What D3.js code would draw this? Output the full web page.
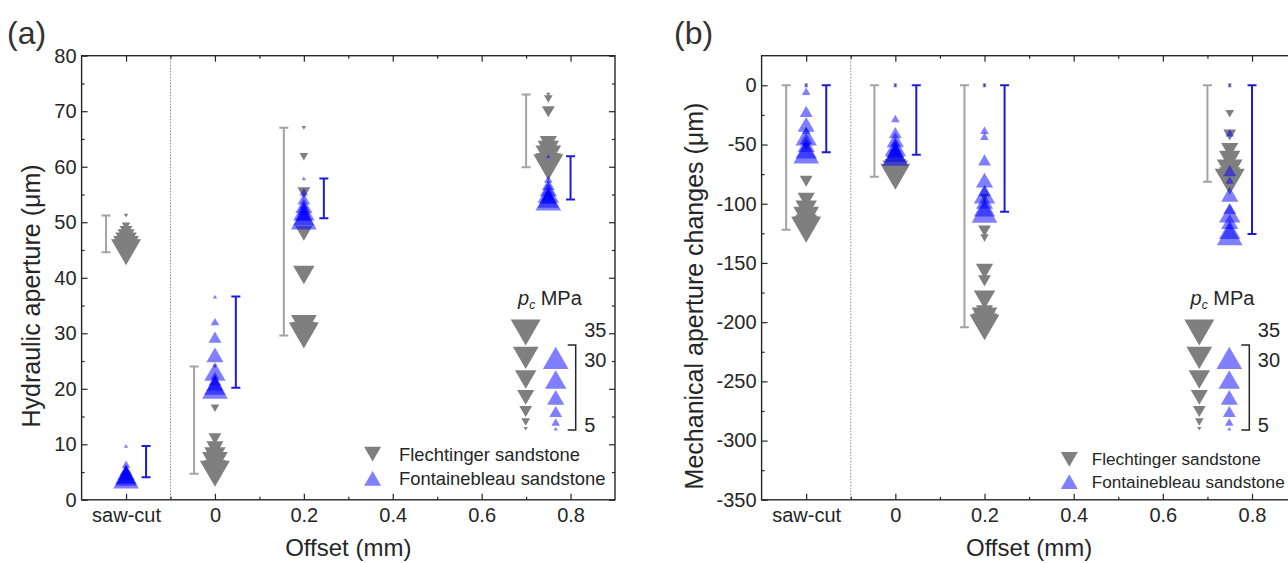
<!DOCTYPE html>
<html><head><meta charset="utf-8">
<script src="https://cdn.jsdelivr.net/npm/d3@7"></script>
<style>body{margin:0;background:#fff;} svg{display:block;font-family:"Liberation Sans",Arial,sans-serif;}</style>
</head><body><svg id="c" width="1288" height="563"></svg>
<script>
// ---------- data ----------
const xTickValues = [-0.2, 0, 0.2, 0.4, 0.6, 0.8];
const xTickLabels = ["saw-cut", "0", "0.2", "0.4", "0.6", "0.8"];
const groupX = [-0.2, 0, 0.2, 0.75];           // marker column per sample group
const legendPress = [35, 30, 25, 20, 15, 10, 5];
const pressF = [5, 10, 15, 20, 25, 30, 35, 30, 25, 20, 15, 10]; // Flechtinger loading/unloading (MPa)
const pressB = [5, 10, 15, 20, 25, 30, 25, 20, 15, 10];         // Fontainebleau loading/unloading (MPa)

// (a) hydraulic aperture (um)
const hydF_saw = [51.2, 49.3, 48.3, 47.4, 46.5, 45.5, 44.6, 44.9, 45.2, 45.6, 46.2, 47.0];
const hydF_0   = [24.0, 16.5, 11.0, 9.2, 7.8, 6.6, 4.7, 5.0, 5.5, 6.2, 7.2, 8.5];
const hydF_02  = [67.0, 61.8, 55.3, 48.0, 40.5, 31.3, 29.6, 30.0, 30.4, 30.8, 31.2, 31.6];
const hydF_08  = [73.0, 72.2, 69.9, 64.2, 63.0, 61.8, 59.9, 60.4, 60.8, 61.3, 61.9, 62.6];
const hydB_saw = [9.7, 6.4, 5.4, 4.9, 4.5, 4.05, 4.2, 4.4, 4.7, 5.2];
const hydB_0   = [36.6, 32.1, 29.3, 26.1, 23.1, 20.2, 20.6, 21.0, 21.6, 22.4];
const hydB_02  = [57.9, 55.5, 54.2, 53.0, 52.0, 50.7, 51.1, 51.6, 52.3, 53.1];
const hydB_08  = [61.9, 57.8, 56.8, 56.0, 55.2, 54.1, 54.3, 54.6, 55.0, 55.5];

// (b) mechanical aperture changes (um)
const mecF_saw = [0, -52, -81, -97, -105, -112, -122, -120, -117, -113, -108, -101];
const mecF_0   = [0, -58, -62, -66, -70, -73, -77.2, -76, -74, -71, -68, -64];
const mecF_02  = [0, -95, -123, -157, -181, -197, -204.4, -202, -199, -192, -165, -129];
const mecF_08  = [0, -24, -42, -55, -63, -72, -81.4, -80, -77, -73, -68, -60];
const mecB_saw = [0, -5, -22, -33, -43, -56.6, -54, -50, -45, -38];
const mecB_0   = [0, -28, -40, -46, -52, -58.6, -57, -55, -52, -48];
const mecB_02  = [0, -38, -63, -80, -92, -106.7, -103, -98, -89, -43];
const mecB_08  = [0, -40, -72, -92, -108, -125.6, -122, -115, -104, -80];

const yTicksA = [0, 10, 20, 30, 40, 50, 60, 70, 80];
const yTicksB = [-350, -300, -250, -200, -150, -100, -50, 0];

// ---------- drawing ----------
const svg = d3.select("#c");
const GRAY = "#7f7f7f", BLUE = "rgba(0,0,255,0.5)", GRAYBAR = "#a3a3a3", BLUEBAR = "#1c1cd6", INK = "#262626";
const sizeScale = d3.scaleLinear().domain([0, 35]).range([0, 30]);

function tri(w, up) {
  const h = w * 0.866;
  return up ? `M0,${-h/2}L${w/2},${h/2}L${-w/2},${h/2}Z` : `M0,${h/2}L${w/2},${-h/2}L${-w/2},${-h/2}Z`;
}

function panel(cfg) {
  const x = d3.scaleLinear().domain([-0.3, 0.9]).range([cfg.left, cfg.right]);
  const y = d3.scaleLinear().domain(cfg.yDomain).range([cfg.bottom, cfg.top]);
  const g = svg.append("g");
  const clipId = "clip" + cfg.id;
  svg.append("clipPath").attr("id", clipId).append("rect")
    .attr("x", cfg.left).attr("y", cfg.top).attr("width", cfg.right - cfg.left).attr("height", cfg.bottom - cfg.top);

  // dotted separator
  g.append("line").attr("x1", x(-0.1)).attr("x2", x(-0.1)).attr("y1", cfg.top).attr("y2", cfg.bottom)
    .attr("stroke", "#8a8a8a").attr("stroke-width", 1).attr("stroke-dasharray", "1.5,1.5");

  // axes
  const minorX = [-0.1, 0.1, 0.3, 0.5, 0.7];
  g.append("g").attr("transform", `translate(0,${cfg.bottom})`)
    .call(d3.axisBottom(x).tickValues(xTickValues).tickFormat((d, i) => xTickLabels[i]).tickSize(-6).tickPadding(8));
  g.append("g").attr("transform", `translate(0,${cfg.bottom})`)
    .call(d3.axisBottom(x).tickValues(minorX).tickFormat("").tickSize(-3));
  g.append("g").attr("transform", `translate(0,${cfg.top})`)
    .call(d3.axisTop(x).tickValues(xTickValues).tickFormat("").tickSize(-6));
  g.append("g").attr("transform", `translate(0,${cfg.top})`)
    .call(d3.axisTop(x).tickValues(minorX).tickFormat("").tickSize(-3));
  g.append("g").attr("transform", `translate(${cfg.left},0)`)
    .call(d3.axisLeft(y).tickValues(cfg.yTicks).tickFormat(d => String(d)).tickSize(-6).tickPadding(5));
  g.append("g").attr("transform", `translate(${cfg.left},0)`)
    .call(d3.axisLeft(y).tickValues(cfg.yMinor).tickFormat("").tickSize(-3));
  g.append("g").attr("transform", `translate(${cfg.right},0)`)
    .call(d3.axisRight(y).tickValues(cfg.yTicks).tickFormat("").tickSize(-6));
  g.append("g").attr("transform", `translate(${cfg.right},0)`)
    .call(d3.axisRight(y).tickValues(cfg.yMinor).tickFormat("").tickSize(-3));
  g.selectAll(".domain").remove();
  g.selectAll(".tick line").attr("stroke", INK).attr("stroke-width", 1.2);
  g.selectAll(".tick text").attr("fill", INK).style("font-size", "20px").style("font-family", '"Liberation Sans",Arial,sans-serif');
  g.append("rect").attr("x", cfg.left).attr("y", cfg.top).attr("width", cfg.right - cfg.left).attr("height", cfg.bottom - cfg.top)
    .attr("fill", "none").attr("stroke", INK).attr("stroke-width", 1.4);

  // error bars (range of each series)
  const plot = g.append("g").attr("clip-path", `url(#${clipId})`);
  function bars(series, sign, color) {
    series.forEach((vals, i) => {
      const [lo, hi] = d3.extent(vals);
      const bx = x(groupX[i] + sign * cfg.barDx[i]);
      const bg = plot.append("g").attr("stroke", color).attr("stroke-width", 2).attr("fill", "none");
      bg.append("line").attr("x1", bx).attr("x2", bx).attr("y1", y(lo)).attr("y2", y(hi));
      bg.append("line").attr("x1", bx - 4.5).attr("x2", bx + 4.5).attr("y1", y(lo)).attr("y2", y(lo));
      bg.append("line").attr("x1", bx - 4.5).attr("x2", bx + 4.5).attr("y1", y(hi)).attr("y2", y(hi));
    });
  }
  bars(cfg.F, -1, GRAYBAR);
  bars(cfg.B, +1, BLUEBAR);

  // markers: Flechtinger first, Fontainebleau on top
  cfg.F.forEach((vals, i) => {
    plot.selectAll(null).data(vals.map((v, k) => ({ v, p: pressF[k] }))).enter().append("path")
      .attr("d", d => tri(sizeScale(d.p), false))
      .attr("transform", d => `translate(${x(groupX[i])},${y(d.v)})`)
      .attr("fill", GRAY);
  });
  cfg.B.forEach((vals, i) => {
    plot.selectAll(null).data(vals.map((v, k) => ({ v, p: pressB[k] }))).enter().append("path")
      .attr("d", d => tri(sizeScale(d.p), true))
      .attr("transform", d => `translate(${x(groupX[i])},${y(d.v)})`)
      .attr("fill", BLUE);
  });

  // pressure-size legend
  const L = cfg.leg;
  const pc = g.append("text").attr("x", L.pcX).attr("y", 305).attr("fill", INK).style("font-size", "20px");
  pc.append("tspan").text("p").style("font-style", "italic");
  pc.append("tspan").text("c").style("font-style", "italic").style("font-size", "12px").attr("dy", 4);
  pc.append("tspan").text(" MPa").attr("dy", -4);
  let top = 319.5;
  legendPress.forEach(p => {
    const w = sizeScale(p), h = w * 0.866;
    g.append("path").attr("d", tri(w, false)).attr("transform", `translate(${L.grayX},${top + h / 2})`).attr("fill", GRAY);
    if (p <= 30) g.append("path").attr("d", tri(w, true)).attr("transform", `translate(${L.blueX},${top + h / 2})`).attr("fill", BLUE);
    top += h + 1.2;
  });
  g.append("path").attr("d", `M${L.brX - 8},345H${L.brX}V430H${L.brX - 8}`).attr("fill", "none").attr("stroke", INK).attr("stroke-width", 1.5);
  [["35", 329.3], ["30", 359.5], ["5", 425]].forEach(([t, yy]) =>
    g.append("text").attr("x", L.brX + 8.5).attr("y", yy).attr("dy", "0.36em").attr("fill", INK).style("font-size", "20px").text(t));

  // series legend
  const S = cfg.ser;
  g.append("path").attr("d", tri(17, false)).attr("transform", `translate(${S.symX},${S.y1})`).attr("fill", GRAY);
  g.append("path").attr("d", tri(17, true)).attr("transform", `translate(${S.symX},${S.y2})`).attr("fill", BLUE);
  g.append("text").attr("x", S.txtX).attr("y", S.y1).attr("dy", "0.36em").attr("fill", INK).style("font-size", S.fs + "px").text("Flechtinger sandstone");
  g.append("text").attr("x", S.txtX).attr("y", S.y2).attr("dy", "0.36em").attr("fill", INK).style("font-size", S.fs + "px").text("Fontainebleau sandstone");

  // titles
  g.append("text").attr("x", (cfg.left + cfg.right) / 2).attr("y", 556).attr("text-anchor", "middle")
    .attr("fill", INK).style("font-size", "24px").text("Offset (mm)");
  g.append("text").attr("transform", `translate(${cfg.yTitleX},296) rotate(-90)`).attr("text-anchor", "middle").attr("dy", "0.36em")
    .attr("fill", INK).style("font-size", "25px").text(cfg.yTitle);
  g.append("text").attr("x", cfg.tagX).attr("y", 44).attr("fill", "#333").style("font-size", "32px").text(cfg.tag);
}

panel({
  id: "a", left: 81.6, right: 615, top: 55.7, bottom: 499.8, yDomain: [0, 80],
  yTicks: yTicksA, yMinor: [5, 15, 25, 35, 45, 55, 65, 75],
  F: [hydF_saw, hydF_0, hydF_02, hydF_08], B: [hydB_saw, hydB_0, hydB_02, hydB_08],
  barDx: [0.045, 0.047, 0.045, 0.05],
  leg: { pcX: 518, grayX: 525.7, blueX: 555.7, brX: 575.7 },
  ser: { symX: 372.6, txtX: 399, y1: 454.2, y2: 478.3, fs: 18.4 },
  yTitle: "Hydraulic aperture (\u03bcm)", yTitleX: 31, tag: "(a)", tagX: 7
});
panel({
  id: "b", left: 761.6, right: 1296.6, top: 55.7, bottom: 499.8, yDomain: [-350, 25],
  yTicks: yTicksB, yMinor: [-325, -275, -225, -175, -125, -75, -25],
  F: [mecF_saw, mecF_0, mecF_02, mecF_08], B: [mecB_saw, mecB_0, mecB_02, mecB_08],
  barDx: [0.045, 0.047, 0.045, 0.05],
  leg: { pcX: 1190.6, grayX: 1199.3, blueX: 1229.3, brX: 1249.3 },
  ser: { symX: 1069.3, txtX: 1091.7, y1: 459.3, y2: 481.7, fs: 17.2 },
  yTitle: "Mechanical aperture changes (\u03bcm)", yTitleX: 694, tag: "(b)", tagX: 674
});
</script></body></html>
